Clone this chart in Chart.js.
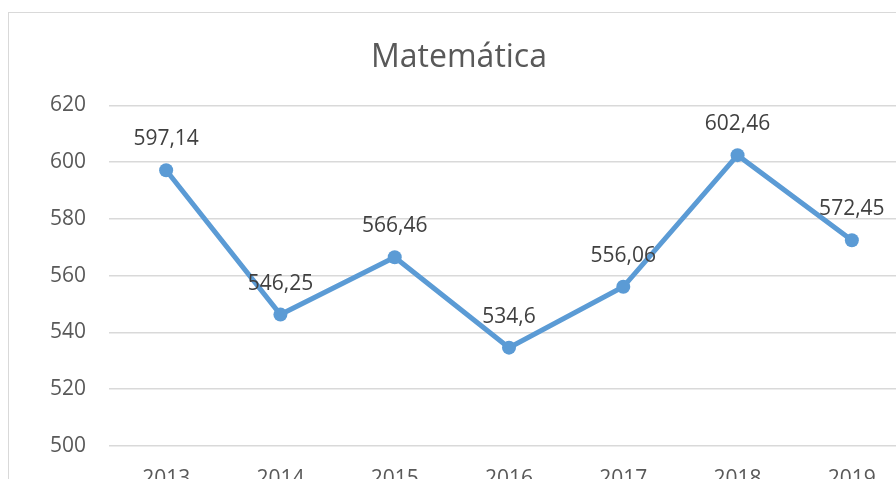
<!DOCTYPE html>
<html>
<head>
<meta charset="utf-8">
<script src="https://cdn.jsdelivr.net/npm/chart.js@4/dist/chart.umd.min.js"></script>
<style>
    html, body { margin: 0; padding: 0; background: #fff; overflow: hidden; }
    #frame {
        position: absolute;
        left: 8px;
        top: 12px;
        width: 920px;
        height: 518px;
        border: 1px solid #d9d9d9;
    }
</style>
</head>
<body>
<div id="frame"><canvas id="grafico" width="920" height="518"></canvas></div>
<script>
var ANOS = ["2013", "2014", "2015", "2016", "2017", "2018", "2019"];
var NOTAS = [597.14, 546.25, 566.46, 534.6, 556.06, 602.46, 572.45];
var Y_TICKS = [500, 520, 540, 560, 580, 600, 620];

var AZUL = "#5b9bd5";
var FONTE = "'Open Sans', 'Noto Sans', sans-serif";

// numbers written with a decimal comma, like the labels on the points
function formatar(v) {
    return String(v).replace(".", ",");
}

var rotulos = {
    id: "rotulos",
    afterDatasetsDraw: function(chart) {
        var ctx = chart.ctx;
        var meta = chart.getDatasetMeta(0);
        ctx.save();
        ctx.font = "21px " + FONTE;
        ctx.fillStyle = "#404040";
        ctx.textAlign = "center";
        ctx.textBaseline = "middle";
        meta.data.forEach(function(pt, i) {
            ctx.fillText(formatar(NOTAS[i]), pt.x, pt.y - 31);
        });
        ctx.restore();
    }
};

var ctx = document.getElementById("grafico").getContext("2d");
var grafico = new Chart(ctx, {
    type: "line",
    data: {
        labels: ANOS,
        datasets: [{
            label: "Matemática",
            data: NOTAS,
            borderColor: AZUL,
            backgroundColor: AZUL,
            borderWidth: 5,
            pointRadius: 7,
            pointBorderWidth: 0,
            pointBackgroundColor: AZUL,
            tension: 0
        }]
    },
    options: {
        responsive: false,
        animation: false,
        layout: {
            padding: { left: 0, right: 20, top: 0, bottom: 26 }
        },
        plugins: {
            legend: { display: false },
            tooltip: { enabled: false },
            title: {
                display: true,
                text: "Matemática",
                color: "#595959",
                font: { family: FONTE, size: 32, weight: "normal" },
                padding: { top: 26, bottom: 28 }
            }
        },
        scales: {
            x: {
                offset: true,
                grid: { display: false },
                border: { display: false },
                ticks: {
                    color: "#595959",
                    padding: 13,
                    maxRotation: 0,
                    font: { family: FONTE, size: 21 }
                }
            },
            y: {
                min: 500,
                max: 620,
                afterFit: function(scale) { scale.width = 100; },
                afterBuildTicks: function(scale) {
                    scale.ticks = Y_TICKS.map(function(v) { return { value: v }; });
                },
                grid: { color: "#d9d9d9", lineWidth: 1.5, drawTicks: false },
                border: { display: false },
                ticks: {
                    color: "#595959",
                    padding: 23,
                    font: { family: FONTE, size: 21 }
                }
            }
        }
    },
    plugins: [rotulos]
});
</script>
</body>
</html>
